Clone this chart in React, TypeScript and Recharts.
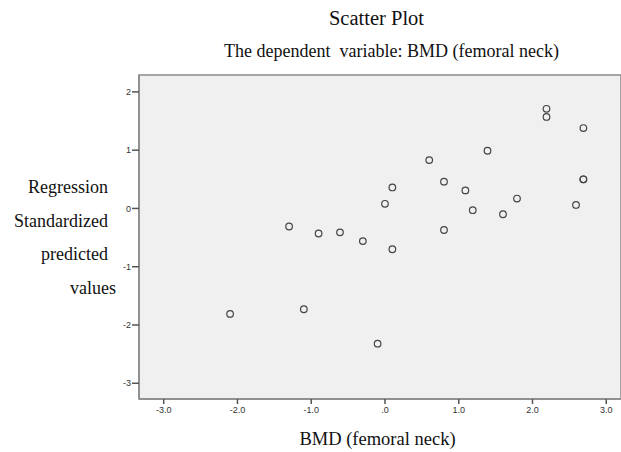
import React from 'react';
import { ScatterChart, Scatter, XAxis, YAxis, ReferenceArea } from 'recharts';

const bmdValues = [2.19, 2.19, 2.69, 1.39, 0.6, 0.8, 0.1, 1.09, 2.69, 2.69, 0.0, 1.79, 2.59, 1.19, 1.6, -1.3, -0.9, -0.61, -0.3, 0.8, 0.1, -2.1, -1.1, -0.1];
const predictedValues = [1.71, 1.57, 1.38, 0.99, 0.83, 0.46, 0.36, 0.31, 0.5, 0.5, 0.08, 0.17, 0.06, -0.03, -0.1, -0.31, -0.43, -0.41, -0.56, -0.37, -0.7, -1.81, -1.73, -2.32];
const xTicks = [-3, -2, -1, 0, 1, 2, 3];
const yTicks = [-3, -2, -1, 0, 1, 2];
const xDomain: [number, number] = [-3.335, 3.2];
const yDomain: [number, number] = [-3.27, 2.29];
const yLabelLines = ['Regression', 'Standardized', 'predicted', 'values'];

const data = bmdValues.map((x, i) => ({ x, y: predictedValues[i] }));

const fmtX = (v: number) => (v === 0 ? '.0' : v.toFixed(1));

const Ring = (props: any) => {
  const { cx, cy } = props;
  return <circle cx={cx} cy={cy} r={3.3} fill="none" stroke="#444" strokeWidth={1.2} />;
};

const serif = '"Liberation Serif", "Times New Roman", serif';

export default function App() {
  return (
    <div style={{ position: 'absolute', left: 0, top: 0, width: 621, height: 452, background: '#fff', fontFamily: serif }}>
      <ScatterChart width={621} height={452} margin={{ top: 75, right: 0, bottom: 0, left: 0 }}>
        <ReferenceArea x1={xDomain[0]} x2={xDomain[1]} y1={yDomain[0]} y2={yDomain[1]} fill="#f0f0f0" fillOpacity={1} stroke="#8a8a8a" strokeWidth={1.5} />
        <XAxis
          type="number"
          dataKey="x"
          domain={xDomain}
          ticks={xTicks}
          tickFormatter={fmtX}
          height={53}
          stroke="#8a8a8a"
          strokeWidth={1.5}
          tickSize={5}
          tickMargin={3}
          tick={{ fontSize: 9, fill: '#333', fontFamily: '"Liberation Sans", Arial, sans-serif' }}
          tickLine={{ stroke: '#555' }}
          allowDataOverflow
        />
        <YAxis
          type="number"
          dataKey="y"
          domain={yDomain}
          ticks={yTicks}
          width={139}
          stroke="#8a8a8a"
          strokeWidth={1.5}
          tickSize={7}
          tickMargin={1}
          tick={{ fontSize: 9, fill: '#333', fontFamily: '"Liberation Sans", Arial, sans-serif' }}
          tickLine={{ stroke: '#555' }}
          allowDataOverflow
        />
        <Scatter data={data} shape={Ring} isAnimationActive={false} />
      </ScatterChart>
      <div style={{ position: 'absolute', left: 0, width: 753, top: 7, textAlign: 'center', fontSize: 20.5, color: '#111' }}>Scatter Plot</div>
      <div style={{ position: 'absolute', left: 0, width: 783, top: 41, textAlign: 'center', fontSize: 18, color: '#111' }}>The dependent&nbsp; variable: BMD (femoral neck)</div>
      {yLabelLines.map((t, i) => (
        <div key={t} style={{ position: 'absolute', right: 621 - 108 + (i === 3 ? -8 : 0), top: 177 + i * 33.5, fontSize: 18, color: '#111', whiteSpace: 'nowrap' }}>{t}</div>
      ))}
      <div style={{ position: 'absolute', left: 0, width: 755, top: 429, textAlign: 'center', fontSize: 18.5, color: '#111' }}>BMD (femoral neck)</div>
    </div>
  );
}
